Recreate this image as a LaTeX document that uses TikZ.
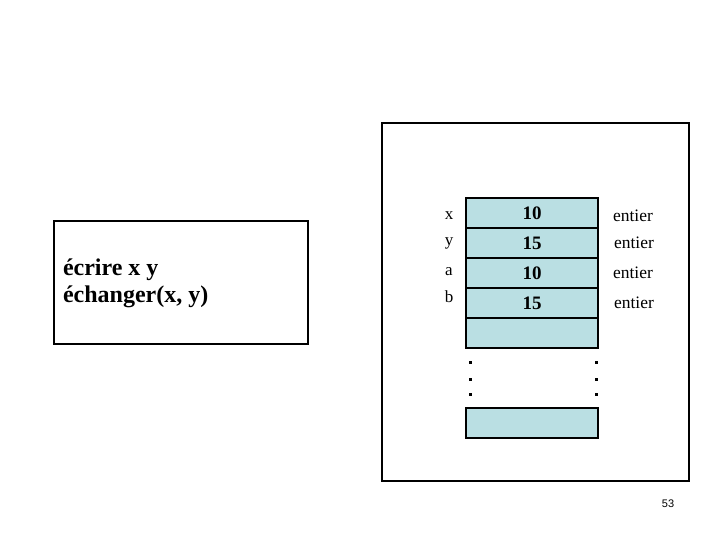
\documentclass[tikz,border=0pt]{standalone}
\usepackage{fontspec}
\setmainfont{Liberation Serif}
\newfontfamily\numfont{Liberation Sans}
\definecolor{cellblue}{RGB}{186,223,227}
\begin{document}
\begin{tikzpicture}[x=1pt, y=-1pt, line width=2pt,
  cell/.style={draw, fill=cellblue, minimum width=132pt, minimum height=30pt, inner sep=0pt, font=\fontsize{19}{21}\selectfont\bfseries},
  varname/.style={inner sep=0pt, font=\fontsize{17}{19}\selectfont},
  vartype/.style={inner sep=0pt, font=\fontsize{17.5}{19}\selectfont},
  dot/.style={fill, rectangle, minimum size=3pt, inner sep=0pt}]

  \useasboundingbox (0,0) rectangle (720,540);

  % Bloc d'instructions
  \draw (54,221) rectangle (308,344);
  \node[anchor=base west, inner sep=0pt, align=left,
        font=\fontsize{24}{26.5}\selectfont\bfseries] (instr) at (62,302)
    {écrire x y\\échanger(x, y)};

  % Cadre de la mémoire
  \draw (382,123) rectangle (689,481);

  % Cases mémoire
  \node[cell] (cx) at (532,213) {10};
  \node[cell] (cy) at (532,243) {15};
  \node[cell] (ca) at (532,273) {10};
  \node[cell] (cb) at (532,303) {15};
  \node[cell] (cv) at (532,333) {};
  \node[cell] (cn) at (532,423) {};

  % Noms des variables
  \node[varname] (nx) at (449,216) {x};
  \node[varname] (ny) at (449,243) {y};
  \node[varname] (na) at (449,272) {a};
  \node[varname] (nb) at (449,297) {b};

  % Types
  \node[vartype] (tx) at (633,216) {entier};
  \node[vartype] (ty) at (634,243) {entier};
  \node[vartype] (ta) at (633,273) {entier};
  \node[vartype] (tb) at (634,303) {entier};

  % Pointillés
  \foreach \yy [count=\i] in {362.5,379,394} {
    \node[dot] (dl\i) at (470,\yy) {};
    \node[dot] (dr\i) at (596,\yy) {};
  }

  % Numéro de page
  \node[inner sep=0pt, font=\numfont\fontsize{11}{13}\selectfont] (page) at (668,504) {53};

\end{tikzpicture}
\end{document}
